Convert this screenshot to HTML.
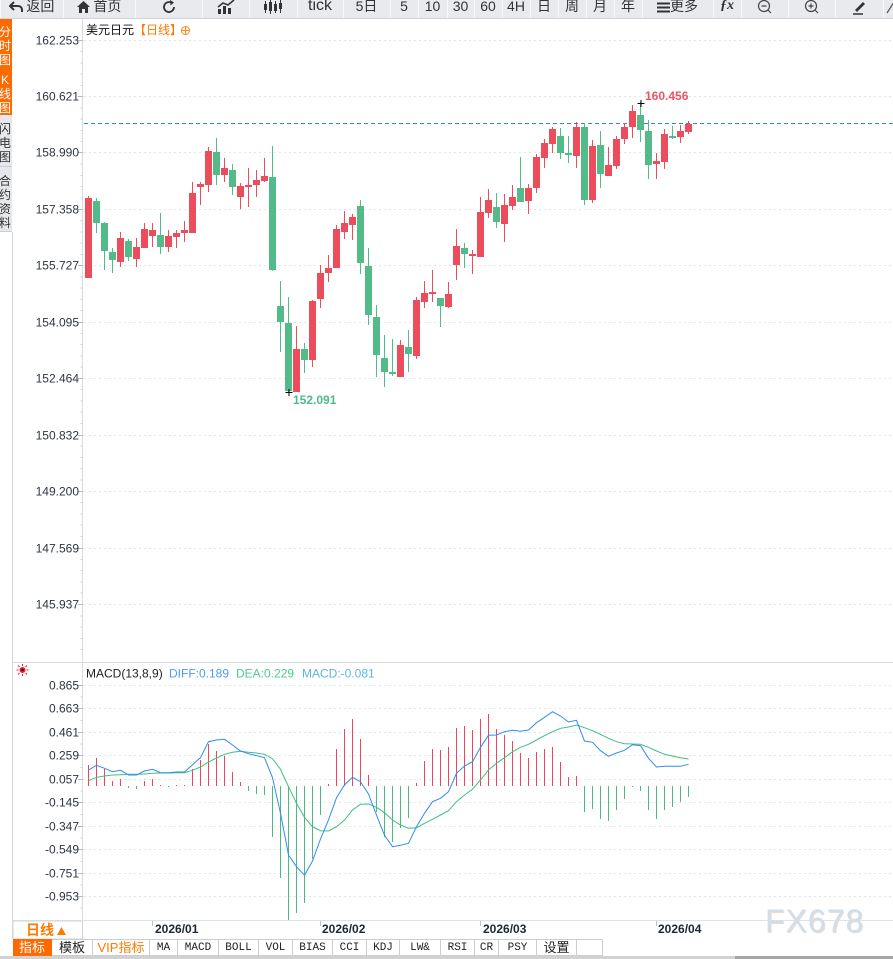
<!DOCTYPE html>
<html><head><meta charset="utf-8">
<style>
html,body{margin:0;padding:0;background:#fff;}
body{width:893px;height:959px;position:relative;overflow:hidden;font-family:"Liberation Sans","Noto Sans CJK SC",sans-serif;}
#tb{position:absolute;left:0;top:0;width:893px;height:18px;background:#e8eaee;border-bottom:1px solid #d0d4d9;overflow:hidden;}
#tb .b{position:absolute;top:-4px;height:22px;line-height:20px;text-align:center;color:#333;font-size:14px;border-right:1px solid #d2d5da;box-shadow:inset 1px 0 0 #f7f8fa;white-space:nowrap;}
#tb svg{vertical-align:middle;}
.side{position:absolute;left:0;width:12px;overflow:hidden;}
.side span{position:absolute;left:-2px;font-size:12px;line-height:12px;width:14px;text-align:center;}
#bt{position:absolute;left:0;top:939px;width:893px;height:17px;background:#fff;}
#bt .c{position:absolute;top:0;height:16px;line-height:16px;text-align:center;border:1px solid #c9ced5;border-left:none;font-size:13px;color:#222;box-sizing:border-box;height:17px;}
#bt .m{font-family:"Liberation Mono","Noto Sans CJK SC",monospace;font-size:11px;}
</style></head>
<body>
<svg width="893" height="959" style="position:absolute;left:0;top:0" xmlns="http://www.w3.org/2000/svg">
<!-- frame lines -->
<line x1="12.5" y1="232" x2="12.5" y2="939" stroke="#d3d8de"/>
<line x1="82.5" y1="19" x2="82.5" y2="920" stroke="#d8dde3"/>
<line x1="12" y1="662.5" x2="893" y2="662.5" stroke="#d5dae0"/>
<line x1="12" y1="920.5" x2="893" y2="920.5" stroke="#dde2e8"/>
<line x1="0" y1="939.5" x2="893" y2="939.5" stroke="#c8d0d8"/>
<!-- main gridlines -->
<g stroke="#e2e5e9" stroke-dasharray="2,3">
<line x1="84" y1="40.5" x2="893" y2="40.5"/>
<line x1="84" y1="96.5" x2="893" y2="96.5"/>
<line x1="84" y1="152.5" x2="893" y2="152.5"/>
<line x1="84" y1="209.5" x2="893" y2="209.5"/>
<line x1="84" y1="265.5" x2="893" y2="265.5"/>
<line x1="84" y1="322.5" x2="893" y2="322.5"/>
<line x1="84" y1="378.5" x2="893" y2="378.5"/>
<line x1="84" y1="435.5" x2="893" y2="435.5"/>
<line x1="84" y1="491.5" x2="893" y2="491.5"/>
<line x1="84" y1="548.5" x2="893" y2="548.5"/>
<line x1="84" y1="604.5" x2="893" y2="604.5"/>
<line x1="84" y1="685.5" x2="893" y2="685.5"/>
<line x1="84" y1="708.5" x2="893" y2="708.5"/>
<line x1="84" y1="732.5" x2="893" y2="732.5"/>
<line x1="84" y1="755.5" x2="893" y2="755.5"/>
<line x1="84" y1="779.5" x2="893" y2="779.5"/>
<line x1="84" y1="802.5" x2="893" y2="802.5"/>
<line x1="84" y1="826.5" x2="893" y2="826.5"/>
<line x1="84" y1="849.5" x2="893" y2="849.5"/>
<line x1="84" y1="873.5" x2="893" y2="873.5"/>
<line x1="84" y1="896.5" x2="893" y2="896.5"/>
</g>
<!-- y ticks -->
<g stroke="#a9bccf">
<path d="M78 40.5H83M78 96.5H83M78 152.5H83M78 209.5H83M78 265.5H83M78 322.5H83M78 378.5H83M78 435.5H83M78 491.5H83M78 548.5H83M78 604.5H83"/>
<path d="M78 685.5H83M78 708.5H83M78 732.5H83M78 755.5H83M78 779.5H83M78 802.5H83M78 826.5H83M78 849.5H83M78 873.5H83M78 896.5H83"/>
</g>
<g stroke="#c9d2dc">
<path d="M80.5 51.5H83M80.5 63H83M80.5 74H83M80.5 85.5H83M80.5 108H83M80.5 119H83M80.5 130.5H83M80.5 141.5H83M80.5 164H83M80.5 175.5H83M80.5 186.5H83M80.5 198H83M80.5 220.5H83M80.5 232H83M80.5 243H83M80.5 254.5H83M80.5 277H83M80.5 288H83M80.5 299.5H83M80.5 310.5H83M80.5 333.5H83M80.5 344.5H83M80.5 356H83M80.5 367H83M80.5 389.5H83M80.5 401H83M80.5 412H83M80.5 423.5H83M80.5 446H83M80.5 457.5H83M80.5 468.5H83M80.5 480H83M80.5 502.5H83M80.5 514H83M80.5 525H83M80.5 536.5H83M80.5 559.5H83M80.5 570.5H83M80.5 582H83M80.5 593H83M80.5 616H83M80.5 627H83M80.5 638.5H83M80.5 649.5H83"/>
<path d="M80.5 697H83M80.5 720.5H83M80.5 744H83M80.5 767.5H83M80.5 791H83M80.5 814.5H83M80.5 838H83M80.5 861.5H83M80.5 885H83M80.5 908H83"/>
</g>
<!-- y labels -->
<g font-family="Liberation Sans, sans-serif" font-size="12" fill="#2e3540" text-anchor="end">
<text x="79" y="44.5">162.253</text>
<text x="79" y="100.5">160.621</text>
<text x="79" y="156.5">158.990</text>
<text x="79" y="213.5">157.358</text>
<text x="79" y="269.5">155.727</text>
<text x="79" y="326.5">154.095</text>
<text x="79" y="382.5">152.464</text>
<text x="79" y="439.5">150.832</text>
<text x="79" y="495.5">149.200</text>
<text x="79" y="552.5">147.569</text>
<text x="79" y="608.5">145.937</text>
<text x="79" y="689.5">0.865</text>
<text x="79" y="712.5">0.663</text>
<text x="79" y="736.5">0.461</text>
<text x="79" y="759.5">0.259</text>
<text x="79" y="783.5">0.057</text>
<text x="79" y="806.5">-0.145</text>
<text x="79" y="830.5">-0.347</text>
<text x="79" y="853.5">-0.549</text>
<text x="79" y="877.5">-0.751</text>
<text x="79" y="900.5">-0.953</text>
</g>
<!-- title -->
<text x="86" y="34" font-family="Liberation Sans, Noto Sans CJK SC, sans-serif" font-size="12" fill="#111">美元日元<tspan fill="#ff7a00">【日线】</tspan></text>
<g stroke="#ff8a1a" fill="none" stroke-width="1"><circle cx="185.5" cy="30.5" r="4"/><path d="M181 30.5H190M185.5 26V35"/></g>
<!-- current price dashed line -->
<line x1="84" y1="123.5" x2="893" y2="123.5" stroke="#3a82d6" stroke-dasharray="4,3"/>
<!-- red candles -->
<g fill="#eb4d5c">
<rect x="88" y="196" width="1" height="82"/><rect x="85" y="198" width="7" height="80"/>
<rect x="120" y="232" width="1" height="35"/><rect x="117" y="238" width="7" height="24"/>
<rect x="136" y="238" width="1" height="29"/><rect x="133" y="247" width="7" height="12"/>
<rect x="144" y="223" width="1" height="25"/><rect x="141" y="229" width="7" height="19"/>
<rect x="152" y="223" width="1" height="24"/><rect x="149" y="230" width="7" height="6"/>
<rect x="168" y="230" width="1" height="22"/><rect x="165" y="236" width="7" height="11"/>
<rect x="176" y="230" width="1" height="18"/><rect x="173" y="233" width="7" height="4"/>
<rect x="184" y="221" width="1" height="21"/><rect x="181" y="230" width="7" height="3"/>
<rect x="192" y="182" width="1" height="51"/><rect x="189" y="193" width="7" height="40"/>
<rect x="200" y="182" width="1" height="23"/><rect x="197" y="184" width="7" height="3"/>
<rect x="208" y="147" width="1" height="45"/><rect x="205" y="151" width="7" height="34"/>
<rect x="224" y="158" width="1" height="24"/><rect x="221" y="168" width="7" height="7"/>
<rect x="240" y="183" width="1" height="26"/><rect x="237" y="186" width="7" height="11"/>
<rect x="248" y="168" width="1" height="39"/><rect x="245" y="185" width="7" height="2"/>
<rect x="256" y="170" width="1" height="27"/><rect x="253" y="180" width="7" height="5"/>
<rect x="264" y="158" width="1" height="24"/><rect x="261" y="176" width="7" height="5"/>
<rect x="296" y="326" width="1" height="66"/><rect x="293" y="349" width="7" height="43"/>
<rect x="312" y="300" width="1" height="67"/><rect x="309" y="301" width="7" height="59"/>
<rect x="320" y="265" width="1" height="43"/><rect x="317" y="273" width="7" height="26"/>
<rect x="328" y="255" width="1" height="27"/><rect x="325" y="268" width="7" height="5"/>
<rect x="336" y="225" width="1" height="43"/><rect x="333" y="229" width="7" height="39"/>
<rect x="344" y="211" width="1" height="28"/><rect x="341" y="223" width="7" height="9"/>
<rect x="352" y="214" width="1" height="26"/><rect x="349" y="217" width="7" height="8"/>
<rect x="400" y="340" width="1" height="37"/><rect x="397" y="345" width="7" height="32"/>
<rect x="416" y="297" width="1" height="62"/><rect x="413" y="300" width="7" height="56"/>
<rect x="424" y="281" width="1" height="27"/><rect x="421" y="293" width="7" height="9"/>
<rect x="432" y="270" width="1" height="32"/><rect x="429" y="292" width="7" height="2"/>
<rect x="448" y="282" width="1" height="26"/><rect x="445" y="294" width="7" height="13"/>
<rect x="456" y="229" width="1" height="51"/><rect x="453" y="246" width="7" height="19"/>
<rect x="472" y="250" width="1" height="24"/><rect x="469" y="254" width="7" height="2"/>
<rect x="480" y="197" width="1" height="60"/><rect x="477" y="212" width="7" height="45"/>
<rect x="488" y="189" width="1" height="29"/><rect x="485" y="200" width="7" height="13"/>
<rect x="504" y="194" width="1" height="48"/><rect x="501" y="205" width="7" height="19"/>
<rect x="512" y="185" width="1" height="25"/><rect x="509" y="197" width="7" height="9"/>
<rect x="528" y="184" width="1" height="30"/><rect x="525" y="188" width="7" height="13"/>
<rect x="536" y="154" width="1" height="39"/><rect x="533" y="157" width="7" height="31"/>
<rect x="544" y="139" width="1" height="29"/><rect x="541" y="143" width="7" height="15"/>
<rect x="552" y="127" width="1" height="26"/><rect x="549" y="129" width="7" height="15"/>
<rect x="576" y="122" width="1" height="46"/><rect x="573" y="127" width="7" height="29"/>
<rect x="592" y="140" width="1" height="63"/><rect x="589" y="146" width="7" height="54"/>
<rect x="608" y="147" width="1" height="29"/><rect x="605" y="165" width="7" height="11"/>
<rect x="616" y="136" width="1" height="33"/><rect x="613" y="139" width="7" height="27"/>
<rect x="624" y="123" width="1" height="21"/><rect x="621" y="127" width="7" height="12"/>
<rect x="632" y="105" width="1" height="33"/><rect x="629" y="111" width="7" height="16"/>
<rect x="656" y="153" width="1" height="26"/><rect x="653" y="161" width="7" height="3"/>
<rect x="664" y="129" width="1" height="40"/><rect x="661" y="134" width="7" height="28"/>
<rect x="680" y="125" width="1" height="18"/><rect x="677" y="131" width="7" height="6"/>
<rect x="688" y="121" width="1" height="13"/><rect x="685" y="124" width="7" height="8"/>
</g>
<!-- green candles -->
<g fill="#52bb88">
<rect x="96" y="198" width="1" height="35"/><rect x="93" y="201" width="7" height="22"/>
<rect x="104" y="222" width="1" height="48"/><rect x="101" y="223" width="7" height="28"/>
<rect x="112" y="248" width="1" height="25"/><rect x="109" y="252" width="7" height="8"/>
<rect x="128" y="239" width="1" height="22"/><rect x="125" y="241" width="7" height="16"/>
<rect x="160" y="213" width="1" height="41"/><rect x="157" y="235" width="7" height="12"/>
<rect x="216" y="138" width="1" height="47"/><rect x="213" y="152" width="7" height="23"/>
<rect x="232" y="164" width="1" height="31"/><rect x="229" y="170" width="7" height="17"/>
<rect x="272" y="146" width="1" height="125"/><rect x="269" y="177" width="7" height="93"/>
<rect x="280" y="281" width="1" height="71"/><rect x="277" y="306" width="7" height="16"/>
<rect x="288" y="297" width="1" height="95"/><rect x="285" y="323" width="7" height="68"/>
<rect x="304" y="343" width="1" height="30"/><rect x="301" y="349" width="7" height="11"/>
<rect x="360" y="200" width="1" height="74"/><rect x="357" y="206" width="7" height="57"/>
<rect x="368" y="248" width="1" height="77"/><rect x="365" y="266" width="7" height="49"/>
<rect x="376" y="305" width="1" height="72"/><rect x="373" y="317" width="7" height="38"/>
<rect x="384" y="335" width="1" height="52"/><rect x="381" y="358" width="7" height="14"/>
<rect x="392" y="339" width="1" height="37"/><rect x="389" y="372" width="7" height="2"/>
<rect x="408" y="330" width="1" height="42"/><rect x="405" y="347" width="7" height="7"/>
<rect x="440" y="298" width="1" height="29"/><rect x="437" y="298" width="7" height="8"/>
<rect x="464" y="243" width="1" height="25"/><rect x="461" y="248" width="7" height="6"/>
<rect x="496" y="193" width="1" height="35"/><rect x="493" y="207" width="7" height="15"/>
<rect x="520" y="157" width="1" height="45"/><rect x="517" y="188" width="7" height="14"/>
<rect x="560" y="128" width="1" height="31"/><rect x="557" y="136" width="7" height="17"/>
<rect x="568" y="136" width="1" height="27"/><rect x="565" y="153" width="7" height="2"/>
<rect x="584" y="123" width="1" height="82"/><rect x="581" y="127" width="7" height="73"/>
<rect x="600" y="131" width="1" height="57"/><rect x="597" y="145" width="7" height="29"/>
<rect x="640" y="102" width="1" height="40"/><rect x="637" y="115" width="7" height="15"/>
<rect x="648" y="120" width="1" height="59"/><rect x="645" y="131" width="7" height="34"/>
<rect x="672" y="126" width="1" height="13"/><rect x="669" y="136" width="7" height="2"/>
</g>
<!-- high/low markers -->
<path d="M637.5 103.5H644.5M641 100V107" stroke="#000" stroke-width="1"/>
<text x="645" y="100" font-family="Liberation Sans, sans-serif" font-size="12" font-weight="bold" fill="#ea5468">160.456</text>
<path d="M285.5 392.5H292.5M289 389V396" stroke="#000" stroke-width="1"/>
<text x="293" y="404" font-family="Liberation Sans, sans-serif" font-size="12" font-weight="bold" fill="#4fb98a">152.091</text>

<!-- MACD header -->
<g transform="translate(22.5,670)">
<g stroke="#e8202a" stroke-width="1"><path d="M-6 0H-4M4 0H6M0 -6V-4M0 4V6M-4.5 -4.5L-3 -3M3 3L4.5 4.5M4.5 -4.5L3 -3M-3 3L-4.5 4.5"/></g>
<circle r="3" fill="#e8202a"/><circle r="1.2" fill="#400"/>
</g>
<text x="86" y="677.5" font-family="Liberation Sans, sans-serif" font-size="12" fill="#222">MACD(13,8,9)<tspan x="169" fill="#4b9cf5">DIFF:0.189</tspan><tspan x="236" fill="#4ccb8c">DEA:0.229</tspan><tspan x="302" fill="#5bb5e6">MACD:-0.081</tspan></text>

<!-- MACD histogram -->
<path stroke="#e8485e" stroke-width="1" fill="none" d="M88.5 765V786M96.5 758V786M104.5 769V786M112.5 781V786M120.5 779V786M144.5 781V786M152.5 779V786M160.5 785V786M176.5 785V786M184.5 785V786M192.5 769V786M200.5 760V786M208.5 744V786M216.5 751V786M224.5 756V786M232.5 772V786M240.5 782V786M328.5 784V786M336.5 749V786M344.5 729V786M352.5 719V786M360.5 739V786M368.5 775V786M416.5 783V786M424.5 761V786M432.5 749V786M440.5 750V786M448.5 747V786M456.5 728V786M464.5 726V786M472.5 730V786M480.5 719V786M488.5 714V786M496.5 729V786M504.5 735V786M512.5 741V786M520.5 753V786M528.5 758V786M536.5 752V786M544.5 749V786M552.5 747V786M560.5 762V786M568.5 777V786M576.5 776V786"/>
<path stroke="#4db884" stroke-width="1" fill="none" d="M128.5 786V788M136.5 786V789M168.5 786V787M248.5 786V791M256.5 786V794M264.5 786V795M272.5 786V837M280.5 786V878M288.5 786V920M296.5 786V913M304.5 786V903M312.5 786V859M320.5 786V815M376.5 786V812M384.5 786V837M392.5 786V842M400.5 786V828M408.5 786V818M584.5 786V812M592.5 786V809M600.5 786V819M608.5 786V821M616.5 786V810M624.5 786V799M632.5 786V787M640.5 786V791M648.5 786V810M656.5 786V819M664.5 786V810M672.5 786V807M680.5 786V802M688.5 786V797"/>
<!-- DEA -->
<polyline fill="none" stroke="#3fbf82" stroke-width="1" points="88.5,780.7 96.5,777.3 104.5,776 112.5,775 120.5,774.7 128.5,774.3 136.5,774.3 144.5,774 152.5,773.3 160.5,773 168.5,773 176.5,772.7 184.5,772.7 192.5,770.3 200.5,767 208.5,762 216.5,758 224.5,754.3 232.5,752.3 240.5,751.3 248.5,752.3 256.5,753 264.5,754.3 272.5,758.7 280.5,769.3 288.5,786.7 296.5,803.3 304.5,817.3 312.5,826.7 320.5,830.7 328.5,831 336.5,826.7 344.5,820 352.5,810 360.5,804.3 368.5,804 376.5,807.3 384.5,812.7 392.5,820 400.5,825 408.5,828.3 416.5,827.7 424.5,823.3 432.5,819.3 440.5,815 448.5,810.7 456.5,801.7 464.5,795 472.5,789.3 480.5,780 488.5,770 496.5,763.3 504.5,757.7 512.5,751.7 520.5,747.3 528.5,744.3 536.5,740 544.5,735.7 552.5,731.7 560.5,728.3 568.5,727 576.5,725 584.5,727.7 592.5,730.7 600.5,734.3 608.5,738.3 616.5,741.7 624.5,743.7 632.5,744 640.5,744.3 648.5,747.3 656.5,751 664.5,754.3 672.5,756 680.5,757.7 688.5,759"/>
<!-- DIFF -->
<polyline fill="none" stroke="#2f8cf2" stroke-width="1" points="88.5,770 96.5,765.3 104.5,768.3 112.5,771.7 120.5,770.3 128.5,775 136.5,775 144.5,771 152.5,769.3 160.5,772.7 168.5,772.7 176.5,772 184.5,772 192.5,764.7 200.5,757.7 208.5,741.7 216.5,740 224.5,739.3 232.5,745 240.5,751 248.5,753.7 256.5,755.7 264.5,757.7 272.5,777.7 280.5,813.3 288.5,855 296.5,866.7 304.5,875.3 312.5,861 320.5,839 328.5,820 336.5,797.7 344.5,785 352.5,777.3 360.5,781.7 368.5,794 376.5,815 384.5,835.3 392.5,846.7 400.5,845.3 408.5,843.3 416.5,826.7 424.5,813.3 432.5,801.7 440.5,798.3 448.5,791.7 456.5,773.3 464.5,766 472.5,761.7 480.5,747.3 488.5,735.3 496.5,735 504.5,731.7 512.5,730.3 520.5,731.3 528.5,730 536.5,722.7 544.5,717.3 552.5,711.7 560.5,716 568.5,722 576.5,720.3 584.5,741 592.5,742.3 600.5,750.7 608.5,756.3 616.5,753 624.5,750.3 632.5,744.7 640.5,745.7 648.5,758.3 656.5,767 664.5,766.3 672.5,766.3 680.5,766.3 688.5,764.3"/>

<!-- x axis -->
<path d="M152.5 921V926M320.5 921V926M480.5 921V926M656.5 921V926" stroke="#b8c4d0"/>
<g font-family="Liberation Sans, sans-serif" font-size="12" font-weight="bold" fill="#1c2836">
<text x="155" y="933">2026/01</text>
<text x="322" y="933">2026/02</text>
<text x="483" y="933">2026/03</text>
<text x="658" y="933">2026/04</text>
</g>
<rect x="13" y="921" width="69.5" height="18" fill="#fff" stroke="#cfd4da"/>
<text x="26" y="935" font-family="Liberation Sans, Noto Sans CJK SC, sans-serif" font-size="14" font-weight="bold" fill="#ff7a00">日线</text>
<path d="M57 935L61.5 927L66 935Z" fill="#ff7a00"/>
<text x="766" y="933" font-family="Liberation Sans, sans-serif" font-size="32" letter-spacing="1" fill="#e6ddd4">FX678</text>
<text x="765" y="932" font-family="Liberation Sans, sans-serif" font-size="32" letter-spacing="1" fill="#d2dde9">FX678</text>
<rect x="0" y="956" width="735" height="3" fill="#d2d2d2"/>
<rect x="735" y="956" width="158" height="3" fill="#a6a6a6"/>
</svg>

<!-- top toolbar -->
<div id="tb">
<div class="b" style="left:0;width:63px;"><svg width="14" height="12" viewBox="0 0 14 12"><path d="M5 1L1 5L5 9M1 5H9C11.5 5 13 6.5 13 9V11" fill="none" stroke="#333" stroke-width="2"/></svg> 返回</div>
<div class="b" style="left:63px;width:72px;"><svg width="13" height="12" viewBox="0 0 13 12"><path d="M6.5 0L0 6H2V12H5V8H8V12H11V6H13Z" fill="#333"/></svg> 首页</div>
<div class="b" style="left:135px;width:67px;"><svg width="16" height="16" viewBox="0 0 16 16"><path d="M13 8A5 5 0 1 1 10.5 3.7" fill="none" stroke="#333" stroke-width="1.8"/><path d="M9 1L13 3.5L9.5 6.5Z" fill="#333"/></svg></div>
<div class="b" style="left:202px;width:47px;"><svg width="18" height="14" viewBox="0 0 18 14"><path d="M1 14V9H4V14ZM6 14V6H9V14ZM11 14V8H14V14Z" fill="#333"/><path d="M1 7L6 3L11 5L17 0" fill="none" stroke="#333" stroke-width="1.6"/></svg></div>
<div class="b" style="left:249px;width:48px;"><svg width="20" height="14" viewBox="0 0 20 14"><g fill="#333"><rect x="1" y="4" width="3" height="6"/><rect x="2" y="1" width="1" height="12"/><rect x="6" y="2" width="3" height="9"/><rect x="7" y="0" width="1" height="14"/><rect x="11" y="4" width="3" height="7"/><rect x="12" y="1" width="1" height="12"/><rect x="16" y="3" width="3" height="6"/><rect x="17" y="0" width="1" height="13"/></g></svg></div>
<div class="b" style="left:297px;width:46px;font-size:16px;">tick</div>
<div class="b" style="left:343px;width:47px;">5日</div>
<div class="b" style="left:390px;width:28px;">5</div>
<div class="b" style="left:418px;width:29px;">10</div>
<div class="b" style="left:447px;width:27px;">30</div>
<div class="b" style="left:474px;width:28px;">60</div>
<div class="b" style="left:502px;width:28px;">4H</div>
<div class="b" style="left:530px;width:28px;">日</div>
<div class="b" style="left:558px;width:28px;">周</div>
<div class="b" style="left:586px;width:28px;">月</div>
<div class="b" style="left:614px;width:28px;">年</div>
<div class="b" style="left:642px;width:71px;"><svg width="13" height="11" viewBox="0 0 13 11"><path d="M0 1.5H13M0 5.5H13M0 9.5H13" stroke="#333" stroke-width="2"/></svg>更多</div>
<div class="b" style="left:713px;width:28px;font-weight:bold;font-style:italic;font-family:'Liberation Serif',serif;">ƒx</div>
<div class="b" style="left:741px;width:47px;"><svg width="16" height="16" viewBox="0 0 16 16"><circle cx="7" cy="7" r="5.5" fill="none" stroke="#444" stroke-width="1.2"/><path d="M4.5 7H9.5M11 11L14 14" stroke="#444" stroke-width="1.2"/></svg></div>
<div class="b" style="left:788px;width:47px;"><svg width="16" height="16" viewBox="0 0 16 16"><circle cx="7" cy="7" r="5.5" fill="none" stroke="#444" stroke-width="1.2"/><path d="M4.5 7H9.5M7 4.5V9.5M11 11L14 14" stroke="#444" stroke-width="1.2"/></svg></div>
<div class="b" style="left:835px;width:48px;"><svg width="16" height="16" viewBox="0 0 16 16"><path d="M4 11L12 3L14 5L6 13Z" fill="#333"/><path d="M2 15H12" stroke="#333" stroke-width="1.5"/></svg></div>
<div class="b" style="left:883px;width:20px;"><svg width="14" height="14" viewBox="0 0 14 14"><path d="M1 13L8 2" stroke="#555" stroke-width="1.2"/></svg></div>
</div>

<!-- left side tabs -->
<div class="side" style="top:19px;height:96px;background:#ff6a00;color:#fff;">
<span style="top:7px">分</span><span style="top:21px">时</span><span style="top:35px">图</span>
<span style="top:55px">K</span><span style="top:69px">线</span><span style="top:83px">图</span>
</div>
<div class="side" style="top:115px;height:52px;background:#e6e8ec;color:#333;border-bottom:1px solid #c9ced5;box-sizing:border-box;">
<span style="top:8px">闪</span><span style="top:22px">电</span><span style="top:36px">图</span>
</div>
<div class="side" style="top:167px;height:65px;background:#e6e8ec;color:#333;border-bottom:1px solid #c9ced5;box-sizing:border-box;">
<span style="top:8px">合</span><span style="top:22px">约</span><span style="top:36px">资</span><span style="top:50px">料</span>
</div>

<!-- bottom toolbar -->
<div id="bt">
<div class="c" style="left:13px;width:39px;background:#ff6a00;color:#fff;border-color:#ff6a00;">指标</div>
<div class="c" style="left:52px;width:41px;">模板</div>
<div class="c" style="left:93px;width:57px;color:#ff7a00;">VIP指标</div>
<div class="c m" style="left:150px;width:28px;">MA</div>
<div class="c m" style="left:178px;width:41px;">MACD</div>
<div class="c m" style="left:219px;width:40px;">BOLL</div>
<div class="c m" style="left:259px;width:34px;">VOL</div>
<div class="c m" style="left:293px;width:40px;">BIAS</div>
<div class="c m" style="left:333px;width:34px;">CCI</div>
<div class="c m" style="left:367px;width:33px;">KDJ</div>
<div class="c m" style="left:400px;width:41px;">LW&amp;</div>
<div class="c m" style="left:441px;width:34px;">RSI</div>
<div class="c m" style="left:475px;width:24px;">CR</div>
<div class="c m" style="left:499px;width:38px;">PSY</div>
<div class="c" style="left:537px;width:40px;">设置</div>
<div class="c" style="left:577px;width:26px;"></div>
</div>
</body></html>
